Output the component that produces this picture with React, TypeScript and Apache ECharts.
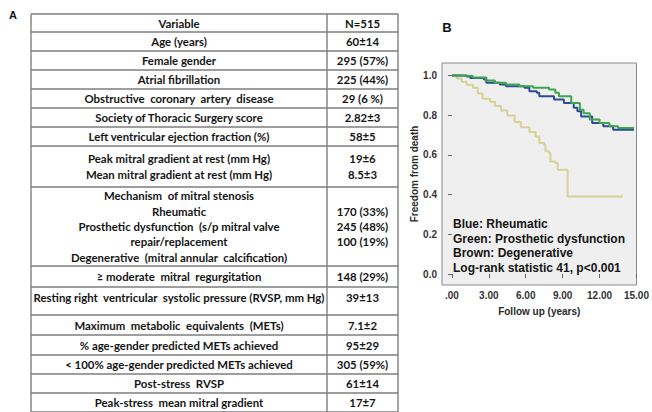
import React, { useEffect, useRef } from "react";
import * as echarts from "echarts";

// ---------- Panel A: table ----------
const tableHeader = ["Variable", "N=515"];
const tableVariables = [
  "Age (years)",
  "Female gender",
  "Atrial fibrillation",
  "Obstructive  coronary  artery  disease",
  "Society of Thoracic Surgery score",
  "Left ventricular ejection fraction (%)",
  "Peak mitral gradient at rest (mm Hg)\nMean mitral gradient at rest (mm Hg)",
  "Mechanism  of mitral stenosis\nRheumatic\nProsthetic dysfunction  (s/p mitral valve\nrepair/replacement\nDegenerative  (mitral annular  calcification)",
  "\u2265 moderate  mitral  regurgitation",
  "Resting right  ventricular  systolic pressure (RVSP, mm Hg)",
  "Maximum  metabolic  equivalents  (METs)",
  "% age-gender predicted METs achieved",
  "< 100% age-gender predicted METs achieved",
  "Post-stress  RVSP",
  "Peak-stress  mean mitral gradient",
];
const tableValues = [
  "60\u00b114",
  "295 (57%)",
  "225 (44%)",
  "29 (6 %)",
  "2.82\u00b13",
  "58\u00b15",
  "19\u00b16\n8.5\u00b13",
  " \n170 (33%)\n245 (48%)\n100 (19%)\n ",
  "148 (29%)",
  "39\u00b113",
  "7.1\u00b12",
  "95\u00b129",
  "305 (59%)",
  "61\u00b114",
  "17\u00b17",
];

// ---------- Panel B: Kaplan-Meier ----------
const xTicks = [0, 3, 6, 9, 12, 15];
const yTicks = [0, 0.2, 0.4, 0.6, 0.8, 1.0];

const rheumaticTime = [0, 1.2, 1.5, 2.6, 2.8, 3.9, 4.4, 5.9, 6.3, 6.9, 7.1, 8.3, 9.1, 9.9, 10.2, 10.5, 11.4, 12.3, 13.1, 14.8];
const rheumaticSurv = [1, 0.995, 0.988, 0.98, 0.963, 0.955, 0.946, 0.938, 0.921, 0.913, 0.895, 0.879, 0.862, 0.837, 0.82, 0.794, 0.761, 0.744, 0.727, 0.727];

const prostheticTime = [0, 0.5, 1.7, 2.8, 3.5, 4.4, 5.5, 6.6, 7.9, 8.4, 8.7, 9.7, 10.4, 10.7, 11.2, 12.0, 12.8, 13.5, 14.8];
const prostheticSurv = [1, 0.997, 0.99, 0.975, 0.963, 0.955, 0.946, 0.938, 0.929, 0.913, 0.895, 0.862, 0.828, 0.81, 0.778, 0.761, 0.744, 0.736, 0.736];

const degenerativeTime = [0, 0.4, 0.8, 1.2, 1.7, 2.1, 2.5, 3.1, 3.5, 4.0, 4.5, 5.1, 5.6, 6.3, 6.8, 7.1, 7.5, 7.6, 7.9, 8.0, 8.4, 8.6, 9.4, 13.9];
const degenerativeSurv = [1, 0.985, 0.968, 0.954, 0.938, 0.909, 0.883, 0.868, 0.847, 0.824, 0.798, 0.766, 0.739, 0.715, 0.693, 0.66, 0.651, 0.618, 0.609, 0.567, 0.559, 0.525, 0.39, 0.39];

const legendLines = [
  "Blue: Rheumatic",
  "Green: Prosthetic dysfunction",
  "Brown: Degenerative",
  "Log-rank statistic 41, p<0.001",
];

const toPairs = (t: number[], s: number[]) => t.map((v, i) => [v, s[i]]);

export default function App() {
  const ref = useRef<HTMLDivElement>(null);

  useEffect(() => {
    if (!ref.current) return;
    const chart = echarts.init(ref.current, null, { renderer: "svg" });

    // table geometry
    const tLeft = 31;
    const tDiv = 327;
    const tRight = 398;
    const tTop = 14;
    const rowHeights = [18, 19, 19, 19, 19, 19, 19, 41, 79, 21, 28, 20, 20, 19, 19, 19];
    const lineHeights = [0, 0, 0, 0, 0, 0, 0, 16, 15.3, 0, 0, 0, 0, 0, 0, 0];
    const topAligned = [false, false, false, false, false, false, false, false, false, false, true, false, false, false, false, false];
    const tFont = "Lato";
    const tSize = 11.4;
    const lineColor = "#7e7e7e";

    const graphics: any[] = [];
    let y = tTop;
    const bounds: number[] = [y];
    rowHeights.forEach((h) => {
      y += h;
      bounds.push(y);
    });
    bounds.forEach((b) => {
      graphics.push({
        type: "line",
        shape: { x1: tLeft, y1: b, x2: tRight, y2: b },
        style: { stroke: lineColor, lineWidth: 1.4 },
        silent: true,
      });
    });
    [tLeft, tDiv, tRight].forEach((vx) => {
      graphics.push({
        type: "line",
        shape: { x1: vx, y1: tTop, x2: vx, y2: bounds[bounds.length - 1] },
        style: { stroke: lineColor, lineWidth: 1.4 },
        silent: true,
      });
    });
    const allLabels = [tableHeader[0], ...tableVariables];
    const allValues = [tableHeader[1], ...tableValues];
    allLabels.forEach((lab, i) => {
      const top = bounds[i];
      const h = rowHeights[i];
      const cy = topAligned[i] ? top + 10 : top + h / 2;
      const lh = lineHeights[i] || 14;
      graphics.push({
        type: "text",
        x: (tLeft + tDiv) / 2,
        y: cy,
        style: {
          text: lab,
          fill: "#151515",
          fontFamily: tFont,
          fontSize: tSize,
          fontWeight: "bold",
          align: "center",
          verticalAlign: "middle",
          lineHeight: lh,
        },
        silent: true,
      });
      graphics.push({
        type: "text",
        x: (tDiv + tRight) / 2,
        y: cy,
        style: {
          text: allValues[i],
          fill: "#151515",
          fontFamily: tFont,
          fontSize: tSize,
          fontWeight: "bold",
          align: "center",
          verticalAlign: "middle",
          lineHeight: lh,
        },
        silent: true,
      });
    });

    // panel letters
    graphics.push({
      type: "text",
      x: 13,
      y: 15,
      style: { text: "A", fill: "#111", fontFamily: "Liberation Sans", fontSize: 11, fontWeight: "bold", align: "center", verticalAlign: "middle" },
    });
    graphics.push({
      type: "text",
      x: 447,
      y: 27,
      style: { text: "B", fill: "#111", fontFamily: "Liberation Sans", fontSize: 13, fontWeight: "bold", align: "center", verticalAlign: "middle" },
    });

    // legend text inside the plot
    graphics.push({
      type: "text",
      x: 453,
      y: 246,
      z: 100,
      style: {
        text: legendLines.join("\n"),
        fill: "#151515",
        fontFamily: "Liberation Sans",
        fontSize: 12,
        fontWeight: "bold",
        align: "left",
        verticalAlign: "middle",
        lineHeight: 14.7,
      },
    });

    const labelStyle = {
      fontFamily: "Liberation Sans",
      fontSize: 10,
      fontWeight: "bold" as const,
      color: "#333",
    };

    chart.setOption({
      animation: false,
      backgroundColor: "#ffffff",
      grid: {
        left: 442,
        right: 14,
        top: 63,
        bottom: 127,
        show: true,
        backgroundColor: "#efefef",
        borderColor: "#8a8a8a",
        borderWidth: 1,
      },
      xAxis: {
        type: "value",
        min: -0.806,
        max: 15,
        splitLine: { show: false },
        axisLine: { show: false },
        axisTick: { show: true, customValues: xTicks, length: 4, lineStyle: { color: "#666" } },
        axisLabel: {
          customValues: xTicks,
          formatter: (v: number) => (v === 0 ? ".00" : v.toFixed(2)),
          margin: 5,
          ...labelStyle,
        },
        name: "Follow up (years)",
        nameLocation: "middle",
        nameGap: 21,
        nameTextStyle: { ...labelStyle, color: "#2a2a2a" },
      },
      yAxis: {
        type: "value",
        min: -0.0554,
        max: 1.063,
        splitLine: { show: false },
        axisLine: { show: false },
        axisTick: { show: true, customValues: yTicks, length: 4, lineStyle: { color: "#666" } },
        axisLabel: {
          customValues: yTicks,
          formatter: (v: number) => v.toFixed(1),
          margin: 5,
          ...labelStyle,
        },
        name: "Freedom from death",
        nameLocation: "middle",
        nameGap: 23,
        nameTextStyle: { ...labelStyle, color: "#2a2a2a" },
      },
      series: [
        {
          name: "Degenerative",
          type: "line",
          step: "end",
          symbol: "none",
          data: toPairs(degenerativeTime, degenerativeSurv),
          lineStyle: { color: "#d6d298", width: 2 },
          z: 2,
        },
        {
          name: "Rheumatic",
          type: "line",
          step: "end",
          symbol: "none",
          data: toPairs(rheumaticTime, rheumaticSurv),
          lineStyle: { color: "#2c4a98", width: 2 },
          z: 3,
        },
        {
          name: "Prosthetic dysfunction",
          type: "line",
          step: "end",
          symbol: "none",
          data: toPairs(prostheticTime, prostheticSurv),
          lineStyle: { color: "#3da64c", width: 2 },
          z: 4,
        },
      ],
      graphic: graphics,
    });

    return () => chart.dispose();
  }, []);

  return (
    <div
      ref={ref}
      style={{ position: "fixed", left: 0, top: 0, width: 652, height: 412, background: "#fff" }}
    />
  );
}
